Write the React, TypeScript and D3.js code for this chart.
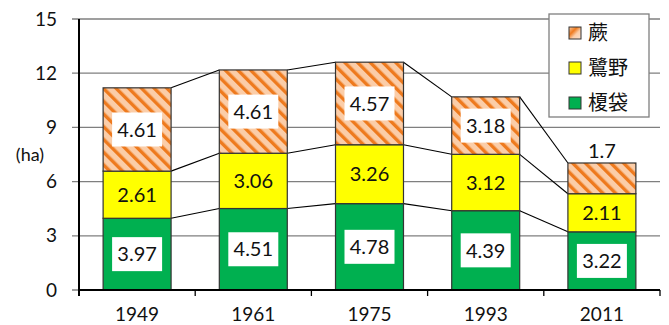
import React from "react";
import * as d3 from "d3";

const years = ["1949", "1961", "1975", "1993", "2011"];
const kasai = [3.97, 4.51, 4.78, 4.39, 3.22];   // 榎袋
const sagino = [2.61, 3.06, 3.26, 3.12, 2.11];  // 鷺野
const warabi = [4.61, 4.61, 4.57, 3.18, 1.7];   // 蕨
const yTicks = [0, 3, 6, 9, 12, 15];
const seriesNames = ["榎袋", "鷺野", "蕨"];

const W = 669, H = 325;
const LEFT = 79, RIGHT = 660, TOP = 19, BOTTOM = 290;
const FONT = "Lato, 'Noto Sans', sans-serif";
const JFONT = "'Noto Sans CJK JP', sans-serif";

export default function App() {
  const x = d3.scaleBand<string>().domain(years).range([LEFT, RIGHT]).paddingInner(0.415).paddingOuter(0.2075);
  const y = d3.scaleLinear().domain([0, 15]).range([BOTTOM, TOP]);
  const bw = x.bandwidth();
  const series = [kasai, sagino, warabi];
  const fills = ["#00B050", "#FFFF00", "url(#hatch)"];
  const stacks = years.map((_, i) => {
    let acc = 0;
    return series.map((s) => {
      const y0 = acc;
      acc += s[i];
      return { y0, y1: acc, v: s[i] };
    });
  });
  const step = x.step();
  return (
    <svg width={W} height={H} style={{ position: "absolute", left: 0, top: 0, background: "#fff" }}>
      <defs>
        <pattern id="hatch" patternUnits="userSpaceOnUse" width="9" height="9" patternTransform="rotate(-45)">
          <rect width="9" height="9" fill="#FBCDA8" />
          <rect x="0" y="0" width="3.4" height="9" fill="#EE7A1E" />
        </pattern>
        <linearGradient id="lhatch" x1="0" y1="0" x2="1" y2="1">
          <stop offset="0" stopColor="#FBCDA8" />
          <stop offset="0.35" stopColor="#EE7A1E" />
          <stop offset="0.6" stopColor="#FBCDA8" />
          <stop offset="1" stopColor="#FBE0CC" />
        </linearGradient>
      </defs>
      {/* gridlines */}
      {yTicks.map((t) => (
        <g key={t}>
          <line x1={72} x2={RIGHT} y1={y(t)} y2={y(t)} stroke="#7f7f7f" strokeWidth={1.3} />
          <text x={57} y={y(t)} dy="0.35em" textAnchor="end" fontFamily={FONT} fontSize={19} fill="#111">{t}</text>
        </g>
      ))}
      <text x={30} y={155} dy="0.35em" textAnchor="middle" fontFamily={FONT} fontSize={18} fill="#111">(ha)</text>
      {/* series lines */}
      {years.slice(0, -1).map((yr, i) => (
        <g key={"sl" + yr}>
          {[0, 1, 2].map((k) => (
            <line key={k} x1={(x(yr) as number) + bw} x2={x(years[i + 1]) as number}
              y1={y(stacks[i][k].y1)} y2={y(stacks[i + 1][k].y1)} stroke="#000" strokeWidth={1.1} />
          ))}
        </g>
      ))}
      {/* bars */}
      {years.map((yr, i) => (
        <g key={yr}>
          {stacks[i].map((s, k) => (
            <rect key={k} x={x(yr)} y={y(s.y1)} width={bw} height={y(s.y0) - y(s.y1)}
              fill={fills[k]} stroke="#333" strokeWidth={1.2} />
          ))}
        </g>
      ))}
      {/* labels */}
      {years.map((yr, i) => {
        const cx = (x(yr) as number) + bw / 2;
        return stacks[i].map((s, k) => {
          const segH = y(s.y0) - y(s.y1);
          const outside = k === 2 && segH < 36;
          const cy = outside ? y(s.y1) - 12 : (y(s.y0) + y(s.y1)) / 2;
          const boxed = k !== 1 && !outside;
          return (
            <g key={yr + k}>
              {boxed && <rect x={cx - 25} y={cy - 17} width={50} height={34} fill="#fff" />}
              <text x={cx} y={cy} dy="0.36em" textAnchor="middle" fontFamily={FONT} fontSize={20} fill="#111">{s.v}</text>
            </g>
          );
        });
      })}
      {/* axes */}
      <line x1={LEFT} x2={LEFT} y1={TOP} y2={BOTTOM + 6} stroke="#000" strokeWidth={2} />
      <line x1={LEFT} x2={RIGHT} y1={BOTTOM} y2={BOTTOM} stroke="#000" strokeWidth={2} />
      {years.map((yr, i) => (
        <g key={"xt" + yr}>
          <line x1={LEFT + step * (i + 1)} x2={LEFT + step * (i + 1)} y1={BOTTOM} y2={BOTTOM + 6} stroke="#000" strokeWidth={1.3} />
          <text x={(x(yr) as number) + bw / 2} y={321} textAnchor="middle" fontFamily={FONT} fontSize={19} fill="#111">{yr}</text>
        </g>
      ))}
      {/* legend */}
      <rect x={549} y={14} width={100} height={103} fill="#fff" stroke="#7f7f7f" strokeWidth={1.3} />
      {[2, 1, 0].map((k, j) => {
        const cy = 33 + j * 35;
        return (
          <g key={"lg" + k}>
            <rect x={569} y={cy - 6} width={12} height={12} fill={k === 2 ? "url(#lhatch)" : fills[k]} stroke="#333" strokeWidth={1} />
            <text x={588} y={cy} dy="0.36em" fontFamily={JFONT} fontSize={20} fill="#111">{seriesNames[k]}</text>
          </g>
        );
      })}
    </svg>
  );
}
